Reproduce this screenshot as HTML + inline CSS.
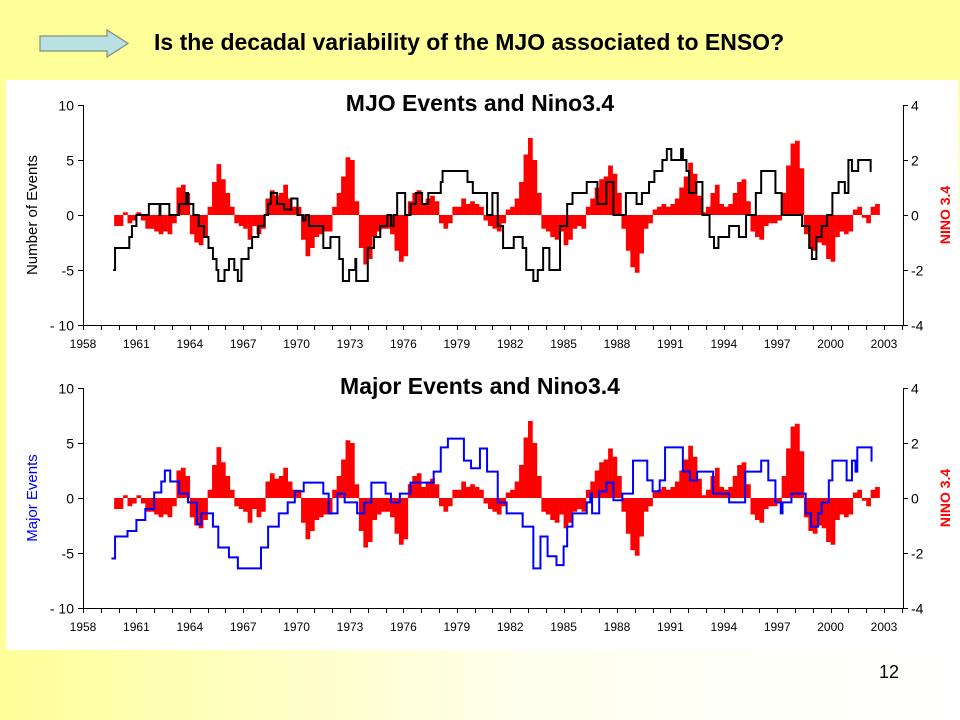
<!DOCTYPE html>
<html><head><meta charset="utf-8">
<style>
html,body{margin:0;padding:0}
body{width:960px;height:720px;overflow:hidden;position:relative;font-family:"Liberation Sans",Arial,sans-serif;
background:linear-gradient(to bottom,rgba(255,255,153,1) 0,rgba(255,255,153,1) 70px,rgba(255,255,153,0) 260px),linear-gradient(to right,#ffff99 0%,#ffffee 55%,#ffffff 100%);}
#title{position:absolute;left:154px;top:29px;font-size:23px;font-weight:bold;color:#000;white-space:nowrap}
#panel{position:absolute;left:6px;top:80px;width:952px;height:570px;background:#fff}
#pnum{position:absolute;left:879px;top:662px;font-size:18px;color:#000}
svg{position:absolute;left:0;top:0}
</style></head>
<body>
<svg width="960" height="720" style="z-index:1">
<polygon points="40,36 107,36 107,30 128,43.5 107,57 107,51 40,51" fill="#b9e0e2" stroke="#7f8f7f" stroke-width="1.2"/>
</svg>
<div id="title">Is the decadal variability of the MJO associated to ENSO?</div>
<div id="panel"></div>
<div id="pnum">12</div>
<svg id="chart" width="960" height="720" style="z-index:2"></svg>
<script>
// Nino3.4 quarterly, starting 1959.75, step 0.25 yr
const ninoStart = 1959.75;
const ninoVals = [-0.4,
-0.4,0.1,-0.3,-0.2, 0.1,-0.2,-0.5,-0.5, -0.6,-0.7,-0.6,-0.7, -0.3,1.0,1.1,0.8,
-0.7,-1.0,-1.1,-0.8, 0.3,1.2,1.85,1.3, 0.8,0.3,-0.3,-0.4, -0.5,-0.9,-0.4,-0.7,
-0.5,0.6,0.9,0.7, 0.8,1.1,0.6,0.3, 0.3,-0.9,-1.5,-1.2, -0.8,-0.7,-0.6,-0.6,
0.3,0.8,1.4,2.1, 2.0,0.5,-1.2,-1.8, -1.6,-0.8,-0.6,-0.5, -0.5,-0.7,-1.3,-1.7,
-1.5,0.5,0.8,0.9, 0.4,0.6,0.7,0.5, -0.3,-0.5,-0.3,0.3, 0.3,0.6,0.4,0.5,
0.4,0.3,-0.2,-0.4, -0.5,-0.6,-0.3,0.2, 0.3,0.6,1.2,2.2, 2.8,2.0,0.8,-0.5,
-0.6,-0.8,-0.9,-0.6, -1.1,-0.9,-0.5,-0.4, -0.5,0.3,0.6,1.0, 1.3,1.4,1.8,1.5,
0.8,-0.5,-1.3,-1.9, -2.1,-1.4,-0.5,-0.3, 0.2,0.3,0.4,0.3, 0.4,0.6,1.0,1.4,
1.9,1.5,0.7,0.1, 0.3,0.8,1.1,0.4, 0.3,0.4,0.8,1.2, 1.3,0.5,-0.6,-0.8,
-0.9,-0.4,-0.3,-0.3, -0.2,0.8,1.8,2.6, 2.7,1.7,-0.7,-1.2, -1.3,-1.0,-1.1,-1.6,
-1.7,-0.8,-0.6,-0.7, -0.6,0.2,0.3,-0.1, -0.3,0.3,0.4];

const mjoYears = [1959.7,1959.8,1960.6,1960.75,1961,1961.7,1962.25,1962.3,1962.35,1962.8,1962.85,1963.4,1963.8,1963.9,1964.2,1964.5,1964.8,1965.05,1965.3,1965.5,1965.6,1965.95,1966.2,1966.5,1966.7,1966.9,1967.3,1967.5,1967.85,1968.2,1968.4,1968.55,1968.9,1969.3,1969.7,1970.05,1970.35,1970.5,1970.7,1971.5,1971.9,1972.4,1972.6,1972.95,1973.3,1973.35,1973.45,1974,1974.35,1974.7,1975.1,1975.3,1975.45,1975.65,1976.1,1976.4,1976.7,1977.05,1977.4,1978.1,1978.2,1979.6,1979.9,1980.7,1981,1981.3,1981.6,1982.2,1982.7,1982.9,1983.3,1983.55,1983.85,1984.2,1984.8,1985.2,1985.5,1986.3,1986.9,1987.4,1987.8,1988.5,1989.1,1989.4,1989.8,1990.1,1990.55,1990.8,1991.05,1991.6,1991.7,1991.9,1992.05,1992.45,1992.8,1993.2,1993.45,1993.7,1994.3,1994.85,1995.25,1995.8,1996.1,1996.9,1997.25,1998.4,1998.8,1998.95,1999.2,1999.5,1999.8,2000.1,2000.45,2000.8,2001,2001.2,2001.55,2002.25,2002.3];
const mjoVals  = [-5,-3,-2,-1,0,1,1,0,1,1,0,1,2,1,0,-1,-2,-3,-4,-5,-6,-5,-4,-5,-6,-4,-3,-2,-1,0,1,2,1,0.5,1.5,0,-0.5,0,-1,-3,-2,-4,-6,-5,-4,-6,-6,-3,-2,-1,0,-1,0,2,0,1,2,1,2,3,4,3,2,0,2,-1,-3,-2,-3,-5,-6,-5,-3,-5,-1,1,2,3,1,3,0,2,1,2,3,4,5,6,5,6,5,4,2,3,0,-2,-3,-2,-1,-2,0,2,4,2,0,-1,-3,-4,-2,-1,0,2,3,2,5,4,5,4,4];

const majYears = [1959.6,1959.8,1960.5,1961,1961.5,1962,1962.4,1962.6,1962.9,1963.4,1963.9,1964.4,1964.65,1965.3,1965.6,1966.2,1966.7,1967.6,1968,1968.4,1969,1969.5,1969.9,1970.4,1971.4,1971.5,1971.8,1972.3,1972.7,1973.4,1973.8,1974.2,1974.8,1975,1975.3,1975.8,1976.4,1977.3,1977.7,1978.1,1978.5,1979.2,1979.4,1979.8,1980.3,1980.7,1981.3,1981.8,1982.55,1982.7,1983.3,1983.7,1984.1,1984.6,1985,1985.2,1985.5,1986.3,1986.5,1986.6,1987,1987.4,1987.8,1988.3,1988.9,1989.7,1990,1990.4,1990.7,1991.7,1992.1,1992.5,1993.4,1994.3,1995.2,1996.1,1996.5,1996.9,1997.2,1997.3,1997.8,1998.6,1998.9,1999.3,1999.5,1999.9,2000.1,2000.9,2001.2,2001.4,2001.5,2002.3,2002.35];
const majVals  = [-5.5,-3.5,-3,-2,-1,0.5,1.5,2.5,1.5,0.4,-0.4,-2.4,-1.4,-2.6,-4.5,-5.4,-6.4,-6.4,-4.5,-2.6,-1.4,-0.4,0.6,1.4,1.4,0.4,-1.4,0.4,-0.4,-1.4,-0.4,1.4,1.4,0.4,-0.4,0.4,1.4,1.4,2.4,4.6,5.4,5.4,3.4,2.7,4.5,2.4,-0.4,-1.4,-1.4,-2.6,-6.4,-3.5,-5.3,-6.1,-4.4,-2.6,-1.4,-0.4,0.4,-1.4,0.6,1.4,-0.2,0.4,3.4,1.6,0.6,1.6,4.6,2.4,1.6,2.4,0.4,-0.4,2.4,3.4,1.6,-0.4,-1.4,-0.4,0.4,-1.4,-2.6,-1.4,-0.4,1.6,3.4,1.6,3.4,2.4,4.6,3.4,3.4];

const xTickLabels = ["1958","1961","1964","1967","1970","1973","1976","1979","1982","1985","1988","1991","1994","1997","2000","2003"];
const leftTicks = [10,5,0,-5,-10];
const rightTicks = [4,2,0,-2,-4];

const NS="http://www.w3.org/2000/svg";
const svg=document.getElementById('chart');
const X0=83, X1=903, PXY=17.8;
function xs(yr){return X0+(yr-1958)*PXY;}
function mk(tag,attrs,parent){const e=document.createElementNS(NS,tag);for(const k in attrs)e.setAttribute(k,attrs[k]);(parent||svg).appendChild(e);return e;}
function txt(s,attrs,parent){const e=mk('text',attrs,parent);e.textContent=s;return e;}

function drawChart(top,title,lineYears,lineVals,lineColor,leftTitle,leftColor,key){
  const bot=top+220;
  const g=mk('g',{});
  
  
  const yl=v=>top+(10-v)/20*220;
  const yr=v=>top+(4-v)/8*220;
  const bw=PXY*0.25;
  const bars=mk('g',{},g);
  
  
  ninoVals.forEach((v,i)=>{
    const x=xs(ninoStart+i*0.25);
    const y0=yr(0), y1=yr(v);
    const r=mk('rect',{x:x.toFixed(2),y:Math.min(y0,y1).toFixed(2),width:(bw+0.3).toFixed(2),height:Math.max(0.5,Math.abs(y1-y0)).toFixed(2),fill:'#ff0000'},bars);
    
    
  });
  let d='';
  lineYears.forEach((yv,i)=>{
    const x=xs(yv).toFixed(2), y=yl(lineVals[i]).toFixed(2);
    if(i===0)d+='M'+x+' '+y;else d+=' H'+x+' V'+y;
  });
  const p=mk('path',{d:d,fill:'none',stroke:lineColor,'stroke-width':2,'stroke-linejoin':'miter'},g);
  
  
  const ax=mk('g',{stroke:'#000','stroke-width':1,fill:'none'},g);
  
  
  mk('line',{x1:X0+0.5,y1:top,x2:X0+0.5,y2:bot},ax);
  mk('line',{x1:X1+0.5,y1:top,x2:X1+0.5,y2:bot},ax);
  mk('line',{x1:X0,y1:bot+0.5,x2:X1,y2:bot+0.5},ax);
  leftTicks.forEach(v=>{const y=Math.round(yl(v))+0.5;mk('line',{x1:X0-5,y1:y,x2:X0,y2:y},ax);
    const t=txt(v===-10?'- 10':String(v),{x:X0-9,y:y+5,'text-anchor':'end','font-size':14,fill:'#000',stroke:'none'},g);
    
    });
  rightTicks.forEach(v=>{const y=Math.round(yr(v))+0.5;mk('line',{x1:X1,y1:y,x2:X1+5,y2:y},ax);
    const t=txt(String(v),{x:X1+8,y:y+5,'font-size':14,fill:'#000',stroke:'none'},g);
    
    });
  for(let yv=1958;yv<=2004;yv++){const x=Math.round(xs(yv))+0.5;if(x>X1)break;mk('line',{x1:x,y1:bot,x2:x,y2:bot+5},ax);}
  xTickLabels.forEach(s=>{const t=txt(s,{x:xs(+s),y:bot+23,'text-anchor':'middle','font-size':12,fill:'#000'},g);
    
    });
  const tt=txt(title,{x:480,y:top+6,'text-anchor':'middle','font-size':23,'font-weight':'bold',fill:'#000'},g);
  
  
  const lt=txt(leftTitle,{x:0,y:0,'text-anchor':'middle','font-size':15,fill:leftColor,transform:'translate(37,'+(top+110)+') rotate(-90)'},g);
  
  
  const rt=txt('NINO 3.4',{x:0,y:0,'text-anchor':'middle','font-size':14,'font-weight':'bold',fill:'#ff0000',transform:'translate(950,'+(top+110)+') rotate(-90)'},g);
  
  
}
drawChart(105,'MJO Events and Nino3.4',mjoYears,mjoVals,'#000000','Number of Events','#000','mjo');
drawChart(388,'Major Events and Nino3.4',majYears,majVals,'#0000ff','Major Events','#0000ff','major');
</script>
</body></html>
